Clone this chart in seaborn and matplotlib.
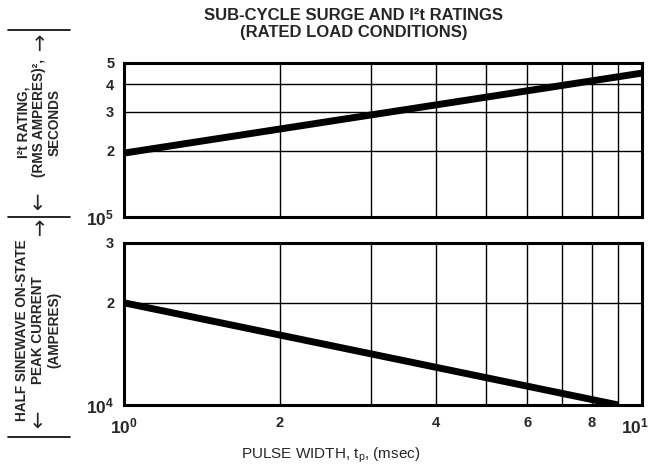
import matplotlib
matplotlib.use("Agg")
import matplotlib.pyplot as plt
import matplotlib.transforms as mtransforms
import seaborn as sns
from matplotlib.ticker import FixedLocator, FixedFormatter, NullFormatter
from matplotlib.lines import Line2D

# ---- data ----
pulse_width_i2t = [1.0, 10.0]          # msec
i2t_rating = [1.95e5, 4.5e5]           # (RMS A)^2 s
pulse_width_surge = [1.0, 9.0]         # msec
peak_current = [2.0e4, 1.0e4]          # A

x_ticks = [1, 2, 4, 6, 8, 10]
x_tick_labels = ["$10^0$", "2", "4", "6", "8", "$10^1$"]
x_grid = [2, 3, 4, 5, 6, 7, 8, 9]
top_y_ticks = [1e5, 2e5, 3e5, 4e5, 5e5]
top_y_labels = ["$10^5$", "2", "3", "4", "5"]
bot_y_ticks = [1e4, 2e4, 3e4]
bot_y_labels = ["$10^4$", "2", "3"]

sns.set_style("white")
plt.rcParams['font.family'] = ['Liberation Sans', 'DejaVu Sans']
plt.rcParams['mathtext.default'] = 'regular'

W, H = 651, 466
fig = plt.figure(figsize=(W / 100, H / 100), dpi=100)

def px(x0, y_top, x1, y_bot):
    return [x0 / W, 1 - y_bot / H, (x1 - x0) / W, (y_bot - y_top) / H]

ax1 = fig.add_axes(px(124, 63, 642, 217))
ax2 = fig.add_axes(px(124, 243, 642, 405))

sns.lineplot(x=pulse_width_i2t, y=i2t_rating, ax=ax1, color="black",
             linewidth=5, solid_capstyle="butt")
sns.lineplot(x=pulse_width_surge, y=peak_current, ax=ax2, color="black",
             linewidth=5, solid_capstyle="butt")

for ax, yt, yl, ylim in [(ax1, top_y_ticks, top_y_labels, (1e5, 5e5)),
                         (ax2, bot_y_ticks, bot_y_labels, (1e4, 3e4))]:
    ax.set_xscale("log")
    ax.set_yscale("log")
    ax.set_xlim(1, 10)
    ax.set_ylim(*ylim)
    ax.xaxis.set_major_locator(FixedLocator(x_ticks))
    ax.xaxis.set_minor_locator(FixedLocator(x_grid))
    ax.xaxis.set_minor_formatter(NullFormatter())
    ax.yaxis.set_major_locator(FixedLocator(yt))
    ax.yaxis.set_major_formatter(FixedFormatter(yl))
    ax.yaxis.set_minor_locator(FixedLocator([]))
    ax.grid(True, which="both", color="black", linewidth=1.0)
    ax.tick_params(which="both", length=0)
    ax.tick_params(axis="y", pad=7)
    ax.tick_params(axis="x", pad=8)
    for s in ax.spines.values():
        s.set_visible(True)
        s.set_color("black")
        s.set_linewidth(2.2)
    ax.set_xlabel("")
    ax.set_ylabel("")
    for lab in ax.get_yticklabels():
        lab.set_fontweight("bold")
        lab.set_fontsize(12.5 if lab.get_text().startswith("$") else 10.5)

ax1.xaxis.set_major_formatter(NullFormatter())
ax2.xaxis.set_major_formatter(FixedFormatter(x_tick_labels))
xlabs = ax2.get_xticklabels()
for lab in xlabs:
    lab.set_fontweight("bold")
    lab.set_fontsize(12.5 if lab.get_text().startswith("$") else 10.5)
# nudge the last label left so it stays inside the figure, as in the reference
shift = mtransforms.ScaledTranslation(-7 / 100, 0, fig.dpi_scale_trans)
xlabs[-1].set_transform(xlabs[-1].get_transform() + shift)

# title
fig.text(354 / W, 1 - 16 / H, "SUB-CYCLE SURGE AND I²t RATINGS",
         ha="center", va="center", fontsize=12, fontweight="bold")
fig.text(354 / W, 1 - 33 / H, "(RATED LOAD CONDITIONS)",
         ha="center", va="center", fontsize=12, fontweight="bold")

# x label
fig.text(331 / W, 1 - 455 / H, "PULSE WIDTH, t$_p$, (msec)",
         ha="center", va="center", fontsize=11)

# left y labels (rotated)
lab_kw = dict(rotation=90, ha="center", va="center", fontsize=9.8, fontweight="bold")
fig.text(23 / W, 1 - 122 / H, "I²t RATING,", **lab_kw)
fig.text(39 / W, 1 - 118 / H, "(RMS AMPERES)²,", **lab_kw)
fig.text(55 / W, 1 - 122 / H, "SECONDS", **lab_kw)
fig.text(22 / W, 1 - 330 / H, "HALF SINEWAVE ON-STATE", **lab_kw)
fig.text(38 / W, 1 - 330 / H, "PEAK CURRENT", **lab_kw)
fig.text(54 / W, 1 - 330 / H, "(AMPERES)", **lab_kw)

arrow_kw = dict(ha="center", va="center", fontsize=15, family="DejaVu Sans")
fig.text(39 / W, 1 - 45 / H, "↑", **arrow_kw)
fig.text(37 / W, 1 - 204 / H, "↓", **arrow_kw)
fig.text(39 / W, 1 - 230 / H, "↑", **arrow_kw)
fig.text(37 / W, 1 - 422 / H, "↓", **arrow_kw)

for yb in [30, 217, 437]:
    fig.add_artist(Line2D([8 / W, 70 / W], [1 - yb / H, 1 - yb / H],
                          color="black", linewidth=1.2))

fig.savefig("out.png", dpi=100)
